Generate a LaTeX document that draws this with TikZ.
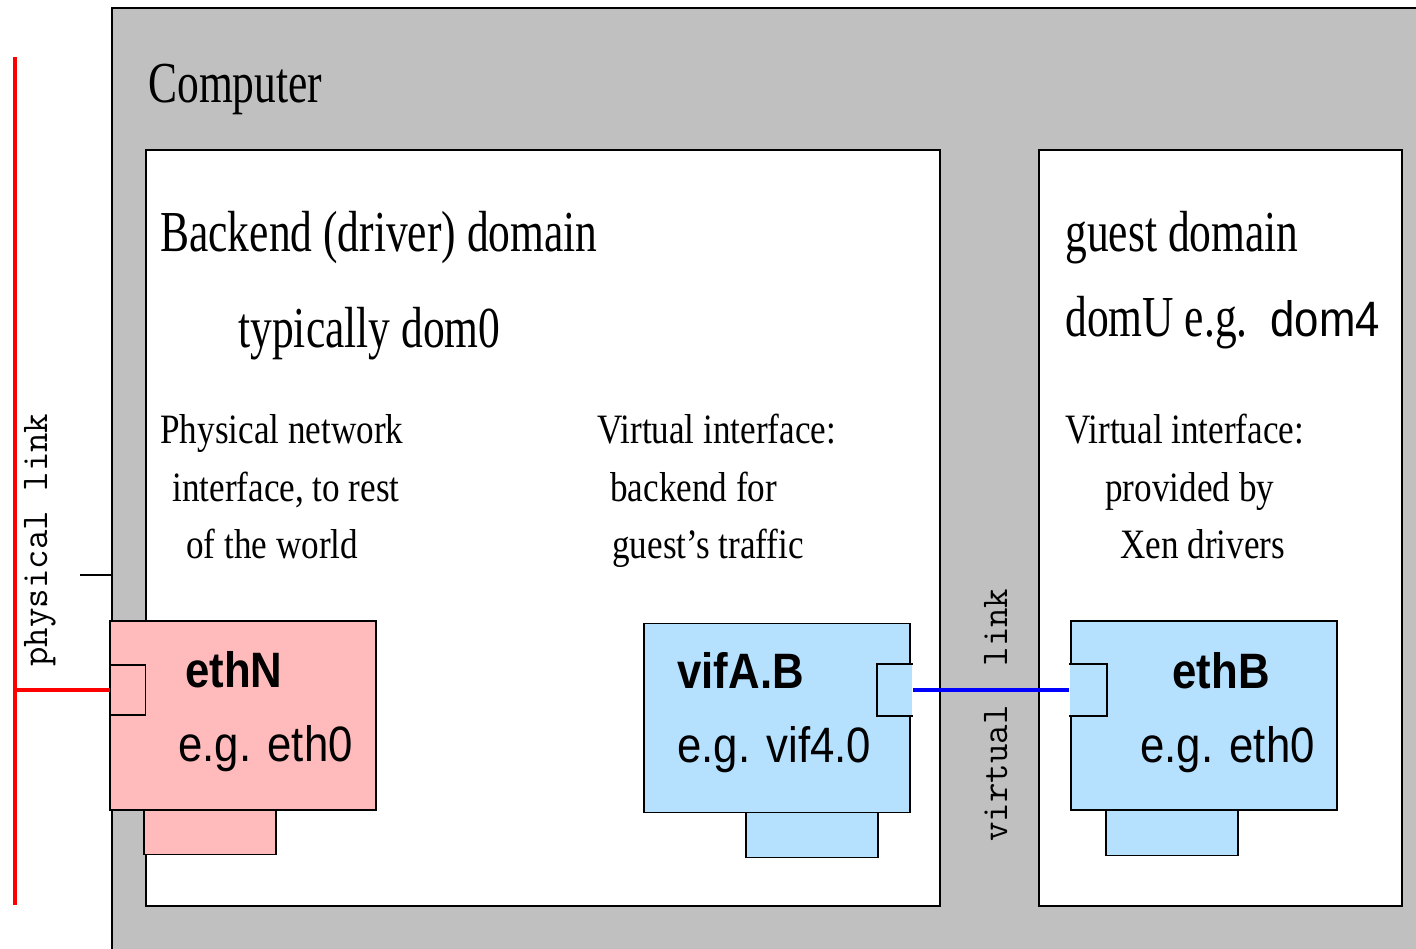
\documentclass[tikz,border=0pt]{standalone}
\usepackage{fontspec}
\usepackage{tikz}
\usetikzlibrary{calc,positioning}
\newfontfamily\bigserif[FakeStretch=0.75]{Liberation Serif}
\newfontfamily\smallserif[FakeStretch=0.84]{Liberation Serif}
\newfontfamily\ifsans[FakeStretch=0.88]{Liberation Sans}
\definecolor{boxgray}{RGB}{192,192,192}
\definecolor{ethpink}{RGB}{255,187,187}
\definecolor{vifblue}{RGB}{181,225,255}
\tikzset{
   title text/.style={anchor=base west,inner sep=0pt,font=\bigserif\fontsize{33}{40}\selectfont},
   note text/.style={anchor=base west,inner sep=0pt,font=\smallserif\fontsize{23.8}{30}\selectfont},
   if name/.style={anchor=base west,inner sep=0pt,font=\ifsans\bfseries\fontsize{28.3}{34}\selectfont},
   if example/.style={anchor=base west,inner sep=0pt,font=\ifsans\fontsize{28.3}{34}\selectfont},
   link text/.style={anchor=base,inner sep=0pt,rotate=90,font=\ttfamily\fontsize{21.5}{24}\selectfont},
   domain box/.style={draw=black,line width=1.1pt,fill=white},
   if box/.style={rectangle,draw=black,line width=1.1pt,inner sep=0pt,minimum width=5.32cm,minimum height=3.78cm},
   if tab/.style={rectangle,draw=black,line width=1.1pt,inner sep=0pt,minimum width=2.64cm,minimum height=0.9cm},
   if port/.style={rectangle,line width=1.1pt,inner sep=0pt,minimum width=0.7cm,minimum height=1cm}
}

\begin{document}
\begin{tikzpicture}[x=0.02cm,y=-0.02cm,
                    phys link/.style={draw=red,line width=2.2pt},
                    virt link/.style={draw=blue,line width=2.6pt}]
\useasboundingbox (0,0) rectangle (1416,949);
\clip (0,0) rectangle (1416,949);
% computer and its two domains
\draw[line width=1.1pt,fill=boxgray] (112,8) rectangle (1440,980);
\draw[domain box] (146,150) rectangle (940,906);
\draw[domain box] (1039,150) rectangle (1402,906);
%
\node[title text] (computer) at (148,103) {Computer};
\node[title text] (backend) at (160,252) {Backend (driver) domain};
\node[title text] (dom0) at (238,348) {typically dom0};
\node[title text] (guest) at (1065,252) {guest domain};
\node[title text] (domU) at (1065,337) {domU e.g.};
\node[if example] (dom4) at (1270,337) {dom4};
%
\node[note text] (phys1) at (160,443) {Physical network};
\node[note text] (phys2) at (172,501) {interface, to rest};
\node[note text] (phys3) at (186,558) {of the world};
\node[note text] (back1) at (597,443) {Virtual interface:};
\node[note text] (back2) at (610,501) {backend for};
\node[note text] (back3) at (612,558) {guest’s traffic};
\node[note text] (front1) at (1065,443) {Virtual interface:};
\node[note text] (front2) at (1105,501) {provided by};
\node[note text] (front3) at (1120,558) {Xen drivers};
% the three interfaces
\node[if tab,fill=ethpink] (ethNtab) at (210,832) {};
\node[if tab,fill=vifblue] (viftab) at (812,835) {};
\node[if tab,fill=vifblue] (ethBtab) at (1172,833) {};
\node[if box,fill=ethpink] (ethN) at (243,715.5) {};
\node[if box,fill=vifblue] (vif) at (777,718) {};
\node[if box,fill=vifblue] (ethB) at (1204,715.5) {};
\node[if port,draw=black,fill=ethpink] (ethNport) at (128,690) {};
\node[if port,fill=vifblue,minimum width=0.68cm] (vifport) at (895,690) {};
\node[if port,fill=vifblue,minimum width=0.72cm] (ethBport) at (1088,690) {};
\draw[line width=1.1pt] (vifport.north east) -| (vifport.south west) -- (vifport.south east);
\draw[line width=1.1pt] (ethBport.north west) -| (ethBport.south east) -- (ethBport.south west);
%
\node[if name] (ethNname) at (185,687) {ethN};
\node[if example] (ethNeg) at (178,761) {e.g. eth0};
\node[if name] (vifname) at (677,688) {vifA.B};
\node[if example] (vifeg) at (677,762) {e.g. vif4.0};
\node[if name] (ethBname) at (1172,688) {ethB};
\node[if example] (ethBeg) at (1140,762) {e.g. eth0};
% links
\coordinate (bus top) at (15,57);
\coordinate (bus bottom) at (15,905);
\coordinate (tick) at (80,575);
\draw[phys link] (bus top) -- (bus bottom);
\draw[phys link] (bus top |- ethNport) -- (ethNport.west);
\draw[line width=1.1pt] (tick) -- +(32,0);
\draw[virt link] (vifport.east) -- (ethBport.west);
\node[link text] (physlabel) at (47,540) {physical link};
\node[link text] (virtlabel) at (1007,715) {virtual\ \ link};
\end{tikzpicture}
\end{document}
